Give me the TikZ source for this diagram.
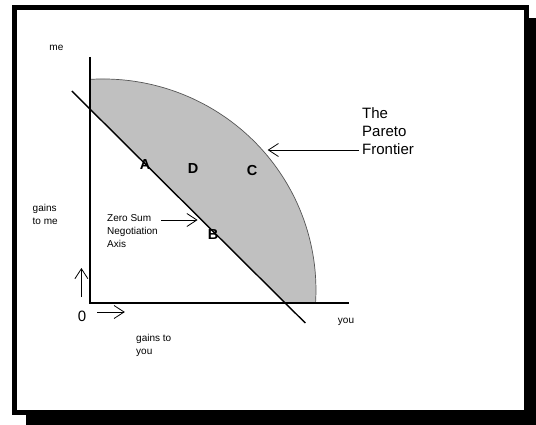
\documentclass[tikz,border=0pt]{standalone}
\usepackage{fontspec}
\setmainfont{Liberation Sans}
\usepackage{xcolor}
\usetikzlibrary{arrows.meta}

\definecolor{regiongray}{RGB}{192,192,192}
\definecolor{edgegray}{RGB}{85,85,85}

\begin{document}
\begin{tikzpicture}[x=1pt, y=-1pt,
  lbl/.style={inner sep=0pt, anchor=west, align=left, font=\fontsize{10}{13}\selectfont},
  small/.style={inner sep=0pt, font=\fontsize{10}{11}\selectfont},
  pt/.style={inner sep=0pt, font=\fontsize{14.5}{14}\selectfont\bfseries},
  axis/.style={line width=2pt},
  arr/.style={-{Straight Barb[length=10pt,width=13pt]}, line width=0.8pt}
]
\useasboundingbox (0,0) rectangle (536,425);
% frame with shadow
\fill[black] (26,18) rectangle (536,425);
\draw[line width=5pt, fill=white] (14.5,7.5) rectangle (526.5,412.5);

% points
\coordinate (O) at (89.6,303);
\coordinate (ytop) at (89.6,57);
\coordinate (xend) at (349,303);
\coordinate (zs1) at (71.8,91);
\coordinate (zs2) at (305.3,323);
\coordinate (top) at (89.6,79.4);

% feasible region
\fill[regiongray] (89.6,108.7) -- (top)
  arc[start angle=93.6, end angle=-3.53, x radius=213pt, y radius=211pt]
  -- (285.2,303) -- cycle;
\draw[edgegray, line width=0.7pt] (top)
  arc[start angle=93.6, end angle=-3.53, x radius=213pt, y radius=211pt];

% axes and zero sum line
\draw[axis] (ytop) -- (O) -- (xend);
\draw[line width=1.4pt] (zs1) -- (zs2);

% labels
\node[small] (me) at (56.4,48) {me};
\node[small] (you) at (346,322) {you};
\node[lbl] (gainsme) at (32.5,214.5) {gains\\to me};
\node[lbl] (gainsyou) at (136,345.5) {gains to\\you};
\node[lbl] (zerosum) at (107,231) {Zero Sum\\Negotiation\\Axis};
\node[lbl, font=\fontsize{15}{18}\selectfont] (pareto) at (362,131) {The\\Pareto\\Frontier};
\node[inner sep=0pt, font=\fontsize{15}{15}\selectfont] (zero) at (82,316) {0};

\node[pt] (A) at (145,165) {A};
\node[pt] (D) at (193,169) {D};
\node[pt] (C) at (252,171) {C};
\node[pt] (B) at (213,235) {B};

% arrows
\coordinate (zsfrom) at (161,220);
\coordinate (zsto) at (197.6,220);
\coordinate (pffrom) at (359,150);
\coordinate (pfto) at (267.7,150);
\coordinate (upfrom) at (81.4,297);
\coordinate (upto) at (81.4,268);
\coordinate (rtfrom) at (97.4,312);
\coordinate (rtto) at (124.8,312);
\foreach \a/\b in {zsfrom/zsto,pffrom/pfto,upfrom/upto,rtfrom/rtto}
  \draw[arr] (\a)--(\b);
\end{tikzpicture}
\end{document}
